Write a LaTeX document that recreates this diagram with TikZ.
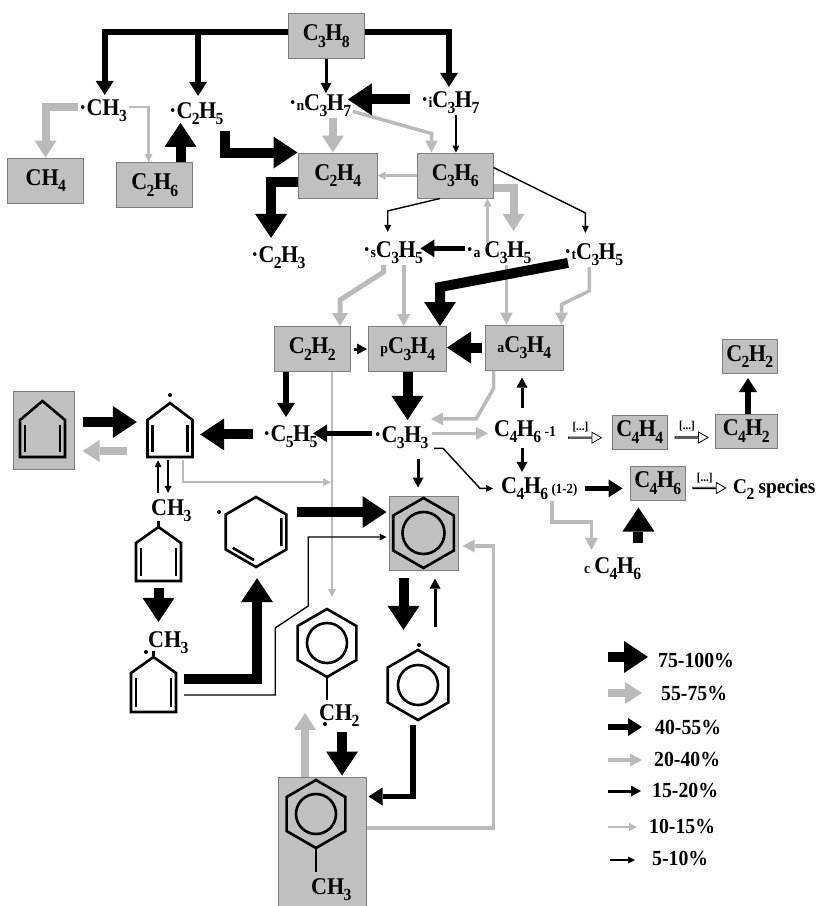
\documentclass[tikz,border=0pt]{standalone}
\usepackage{fontspec}
\setmainfont{Liberation Serif}[FakeStretch=0.92]
\usetikzlibrary{arrows.meta,calc,shapes.arrows}
\definecolor{boxgray}{RGB}{192,192,192}
\definecolor{boxline}{RGB}{125,125,125}
\definecolor{arrgray}{RGB}{186,186,186}
\newcommand\sbs[1]{\kern-0.6pt\relax\raisebox{-6.5pt}{\fontsize{17}{17}\selectfont #1}\kern-0.6pt\relax}
\newcommand\pfx[1]{{\fontsize{15}{15}\selectfont #1}}
\newcommand\lfont{\fontsize{24}{26}\selectfont\bfseries}
\newcommand\legfont{\fontsize{21.5}{23}\selectfont\bfseries}
\newcommand\hexring[2]{\draw[ring] (0,-#1) -- (#2,-#1/2) -- (#2,#1/2) -- (0,#1) -- (-#2,#1/2) -- (-#2,-#1/2) -- cycle;}
\tikzset{
  lbl/.style={font=\lfont, inner sep=1pt, anchor=base west},
  box/.style={draw=boxline, line width=1pt, fill=boxgray, minimum width=76pt, minimum height=45pt, inner sep=0pt, font=\lfont},
  sbox/.style={box, minimum width=55pt, minimum height=34pt},
  struct/.style={inner sep=0pt, draw=none},
  ring/.style={line width=2.6pt, line join=miter},
  big/.style={draw=black, line width=10pt, -{Triangle[width=32pt,length=24pt,line width=0pt]}},
  gthick/.style={draw=arrgray, line width=8pt, -{Triangle[width=22pt,length=17pt,line width=0pt]}},
  med/.style={draw=black, line width=5.5pt, -{Triangle[width=18pt,length=14pt,line width=0pt]}},
  gmedb/.style={draw=arrgray, line width=5pt, -{Triangle[width=16pt,length=13pt,line width=0pt]}},
  gmed/.style={draw=arrgray, line width=3.5pt, -{Triangle[width=13pt,length=12pt,line width=0pt]}},
  thn/.style={draw=black, line width=3pt, -{Triangle[width=11pt,length=10pt,line width=0pt]}},
  gthin/.style={draw=arrgray, line width=2.2pt, -{Triangle[width=8pt,length=8pt,line width=0pt]}},
  vthin/.style={draw=black, line width=1.4pt, -{Triangle[width=7pt,length=7pt,line width=0pt]}},
  hollow/.style={single arrow, draw=black, fill=white, line width=0.8pt, minimum height=33pt, minimum width=11pt, single arrow head extend=3pt, single arrow tip angle=60, inner sep=0pt},
  dotslbl/.style={font=\fontsize{12}{12}\selectfont\bfseries, inner sep=0pt}
}
\begin{document}
\begin{tikzpicture}[x=1pt,y=-1pt]
\useasboundingbox (0,0) rectangle (818,906);
\fill[white] (0,0) rectangle (818,906);

% ---------- boxes ----------
\node[box] (c3h8) at (326,36) {C\sbs{3}H\sbs{8}};
\node[box] (ch4) at (45.5,180.5) {CH\sbs{4}};
\node[box] (c2h6) at (154.5,185) {C\sbs{2}H\sbs{6}};
\node[box, minimum width=79pt] (c2h4) at (337.5,175.5) {C\sbs{2}H\sbs{4}};
\node[box] (c3h6) at (455,175.5) {C\sbs{3}H\sbs{6}};
\node[box] (c2h2) at (312,349) {C\sbs{2}H\sbs{2}};
\node[box, minimum width=78pt] (pc3h4) at (407.5,349) {\pfx{p}C\sbs{3}H\sbs{4}};
\node[box, minimum width=78pt] (ac3h4) at (524,347.5) {\pfx{a}C\sbs{3}H\sbs{4}};
\node[sbox] (c2h2r) at (749.5,356.5) {C\sbs{2}H\sbs{2}};
\node[sbox] (c4h4) at (639.5,432) {C\sbs{4}H\sbs{4}};
\node[sbox, minimum width=62pt] (c4h2) at (746,431) {C\sbs{4}H\sbs{2}};
\node[sbox] (c4h6b) at (657.5,483) {C\sbs{4}H\sbs{6}};
\node[box, minimum width=61pt, minimum height=78pt] (cpd) at (43.5,430) {};
\node[box, minimum width=69pt, minimum height=74pt] (benz) at (423.5,533) {};
\node[box, minimum width=88pt, minimum height=140pt] (tol) at (322,847) {};

% ---------- structure anchors ----------
\node[struct, minimum width=60pt, minimum height=60pt] (c5r) at (170,430) {};
\node[struct, minimum width=50pt, minimum height=56pt] (mcp) at (158.5,554) {};
\node[struct, minimum width=47pt, minimum height=56pt] (mcpr) at (153.5,684) {};
\node[struct, minimum width=58pt, minimum height=70pt] (chd) at (256,532) {};
\node[struct, minimum width=62pt, minimum height=68pt] (bzl) at (327,643) {};
\node[struct, minimum width=62pt, minimum height=70pt] (phen) at (418,685) {};

% ---------- labels ----------
\node[lbl] (ch3) at (78,115) {·CH\sbs{3}};
\node[lbl] (c2h5) at (168,118) {·C\sbs{2}H\sbs{5}};
\node[lbl] (nc3h7) at (288,110) {·\pfx{n}C\sbs{3}H\sbs{7}};
\node[lbl] (ic3h7) at (420,107) {·\pfx{i}C\sbs{3}H\sbs{7}};
\node[lbl] (c2h3) at (250,262) {·C\sbs{2}H\sbs{3}};
\node[lbl] (sc3h5) at (362,257) {·\pfx{s}C\sbs{3}H\sbs{5}};
\node[lbl] (ac3h5) at (465,257) {·\pfx{a}\,C\sbs{3}H\sbs{5}};
\node[lbl] (tc3h5) at (563,259) {·\pfx{t}C\sbs{3}H\sbs{5}};
\node[lbl] (c5h5) at (262,441) {·C\sbs{5}H\sbs{5}};
\node[lbl] (c3h3) at (373,442) {·C\sbs{3}H\sbs{3}};
\node[lbl] (c4h61) at (493,436) {C\sbs{4}H\sbs{6}\,{\fontsize{15}{15}\selectfont -1}};
\node[lbl] (c4h612) at (500,493) {C\sbs{4}H\sbs{6}\,{\fontsize{14}{14}\selectfont (1-2)}};
\node[lbl] (cc4h6) at (583,573) {\pfx{c}\,C\sbs{4}H\sbs{6}};
\node[lbl, font=\fontsize{21}{23}\selectfont\bfseries] (c2sp) at (732,493) {C\sbs{2} species};
\node[lbl] (mcpl) at (150,515) {CH\sbs{3}};
\node[lbl] (mcprl) at (147,647) {CH\sbs{3}};
\node[lbl] (bzll) at (318,720) {CH\sbs{2}};
\node[lbl] (toll) at (310,894) {CH\sbs{3}};

% ---------- structures ----------
\begin{scope}[shift={(cpd.center)}]
  \draw[ring] (-1,-29) -- (-23.5,-10) -- (-23.5,27) -- (21.5,27) -- (21.5,-10) -- cycle;
  \draw[ring] (-18.5,-5) -- (-18.5,22) (16.5,-5) -- (16.5,22);
\end{scope}
\begin{scope}[shift={(c5r.center)}]
  \draw[ring] (0,-27) -- (-22.5,-10) -- (-22.5,27) -- (22.5,27) -- (22.5,-10) -- cycle;
  \draw[ring] (-17.5,-5) -- (-17.5,22) (17.5,-5) -- (17.5,22);
  \fill (0,-35) circle[radius=2pt];
\end{scope}
\begin{scope}[shift={(mcp.center)}]
  \draw[ring] (0,-27) -- (-22.5,-11) -- (-22.5,27) -- (22.5,27) -- (22.5,-11) -- cycle;
  \draw[ring] (-17.5,-6) -- (-17.5,22) (17.5,-6) -- (17.5,22);
  \draw[ring] (0,-27) -- (0,-33);
\end{scope}
\begin{scope}[shift={(mcpr.center)}]
  \draw[ring] (0,-27) -- (-22.5,-11) -- (-22.5,28) -- (22.5,28) -- (22.5,-11) -- cycle;
  \draw[ring] (-17.5,-6) -- (-17.5,23) (17.5,-6) -- (17.5,23);
  \draw[ring] (0,-27) -- (0,-33);
  \fill (-7.5,-32) circle[radius=2pt];
\end{scope}
\begin{scope}[shift={(chd.center)}]
  \hexring{35}{30.3}
  \draw[ring] (25.3,-14) -- (25.3,14) (-23.3,15.8) -- (-2,28.1);
  \fill (-37,-20) circle[radius=2pt];
\end{scope}
\begin{scope}[shift={(benz.center)}]
  \hexring{35}{30.3}
  \draw[ring] (0,0) circle[radius=21pt];
\end{scope}
\begin{scope}[shift={(bzl.center)}]
  \hexring{34}{29.4}
  \draw[ring] (0,0) circle[radius=20pt];
  \draw[ring] (0,34) -- (0,57);
  \fill (-2,81) circle[radius=2pt];
\end{scope}
\begin{scope}[shift={(phen.center)}]
  \hexring{35}{30.3}
  \draw[ring] (0,0) circle[radius=20pt];
  \fill (1,-40) circle[radius=2pt];
\end{scope}
\begin{scope}[shift={(316,814)}]
  \hexring{34}{29.4}
  \draw[ring] (0,0) circle[radius=20pt];
  \draw[ring] (0,34) -- (0,58);
\end{scope}

% ---------- helper coordinates ----------
\coordinate (tl) at ($(c3h8.west)+(0,-4)$);
\coordinate (c2h5t) at ($(c2h5.north)+(2,-5)$);
\coordinate (a4) at ($(ic3h7.west)+(-10,-3)$);
\coordinate (a7) at ($(c2h6.north)+(26,0)$);
\coordinate (a9) at ($(nc3h7.south)+(13,0)$);
\coordinate (a11) at ($(ic3h7.south)+(6,0)$);
\coordinate (a16) at ($(ac3h5.north)+(-11,3)$);
\coordinate (a18) at ($(ac3h5.west)+(0,-4)$);
\coordinate (a21) at ($(sc3h5.south)+(11,0)$);
\coordinate (a22) at ($(ac3h5.south)+(8,0)$);
\coordinate (a27) at ($(c2h2.south)+(-26,0)$);
\coordinate (a28) at ($(c2h2.south)+(20,0)$);
\coordinate (a30) at ($(ac3h4.south)+(-2,0)$);
\coordinate (a31) at ($(c3h3.east)+(3,-4)$);
\coordinate (a32) at ($(c3h3.west)+(0,-4)$);
\coordinate (a33) at ($(c5h5.west)+(-9,-2)$);
\coordinate (a34) at ($(cpd.east)+(8,-8)$);
\coordinate (a35) at ($(c5r.west)+(-13,21)$);
\coordinate (a36u) at ($(mcpl.north)+(-13,-5)$);
\coordinate (a36d) at ($(mcpl.north)+(-3,-5)$);
\coordinate (a37) at ($(c5r.south)+(13,22)$);
\coordinate (a38) at ($(chd.east)+(12,-20)$);
\coordinate (a41) at ($(mcp.south)+(0,6)$);
\coordinate (a42) at ($(c3h3.south)+(17,9)$);
\coordinate (a44) at ($(benz.south)+(-20,7)$);
\coordinate (a45) at ($(phen.north)+(17,-23)$);
\coordinate (a48) at ($(bzll.south)+(3,4)$);
\coordinate (a49) at ($(tol.north)+(-17,0)$);
\coordinate (a51) at ($(c4h612.east)+(6,0)$);
\coordinate (a53) at ($(cc4h6.north)+(26,-13)$);
\coordinate (a56) at ($(c4h2.north)+(2,0)$);

% ---------- gray connectors ----------
\draw[gthick] ($(ch3.west)+(0,-3)$) -| (ch4.north);
\draw[gthin] ($(ch3.east)+(1,-3)$) -| ($(c2h6.north)+(-6,0)$);
\draw[gthick] (a9) -- (a9 |- c2h4.north);
\draw[gmed] ($(nc3h7.east)+(1,6)$) -- ($(c3h6.north west)+(15,-19)$) -- ($(c3h6.north west)+(15,0)$);
\draw[gthin] (c3h6.west) -- (c2h4.east);
\draw[gthin] (a16) -- (a16 |- c3h6.south);
\draw[gthick] ($(c3h6.east)+(0,12)$) -| ($(ac3h5.north)+(15,-9)$);
\draw[gmedb] ($(sc3h5.south)+(-9,0)$) -- ++(0,7) -- ($(c2h2.north)+(28,-26)$) -- ($(c2h2.north)+(28,0)$);
\draw[gmed] (a21) -- (a21 |- pc3h4.north);
\draw[gmed] (a22) -- (a22 |- ac3h4.north);
\draw[gmed] ($(tc3h5.south)+(-4,0)$) -- ++(0,24) -- ($(ac3h4.north east)+(-2,-20)$) -- ($(ac3h4.north east)+(-2,0)$);
\draw[gthin] (a28) -- ($(bzl.north)+(5,-12)$);
\draw[gmed] ($(ac3h4.south west)+(9,0)$) -- ++(0,18) -- ($(c3h3.north east)+(47,-6)$) -- ($(c3h3.north east)+(2,-6)$);
\draw[gmed, shorten >=5pt] (a31) -- (a31 -| c4h61.west);
\draw[gthick, shorten >=8pt] (a35) -- (a35 -| cpd.east);
\draw[gthin, shorten >=1pt] ($(c5r.south)+(13,0)$) -- (a37) -- (a37 -| a28);
\draw[gmed] ($(tol.east)+(0,-19)$) -- ++(127,0) |- ($(benz.east)+(4,13)$);
\draw[gthick, shorten >=10pt] (a49) -- (a49 |- bzll.north);
\draw[gmed] ($(c4h612.south west)+(52,0)$) -- ++(0,21) -| ($(cc4h6.north)+(-21,-6)$);

% ---------- black connectors ----------
\draw[med] (tl) -| ($(ch3.north)+(2,-3)$);
\draw[med] (tl -| c2h5t) -- (c2h5t);
\draw[med] ($(c3h8.east)+(0,-4)$) -| ($(ic3h7.north)+(-1,-3)$);
\draw[thn] (c3h8.south) -- (c3h8.south |- nc3h7.north);
\draw[big, shorten >=-4pt] (a4) -- (a4 -| nc3h7.east);
\draw[big, shorten >=-3pt] (a7) -- (a7 |- c2h5.south);
\draw[big] ($(c2h5.south east)+(1,5)$) |- (c2h4.north west);
\draw[vthin] (a11) -- (a11 |- c3h6.north);
\draw[big] ($(c2h4.west)+(0,6)$) -| ($(c2h3.north)+(-7,-7)$);
\draw[vthin] ($(c3h6.south)+(-15,0)$) -- ($(sc3h5.north)+(-5,-29)$) -- ($(sc3h5.north)+(-5,-8)$);
\draw[vthin] ($(c3h6.east)+(0,-8)$) -- ($(tc3h5.north)+(-8,-29)$) -- ($(tc3h5.north)+(-8,-9)$);
\draw[med, shorten >=-3pt] (a18) -- (a18 -| sc3h5.east);
\draw[big] ($(tc3h5.south west)+(5,-4)$) -- ($(pc3h4.north)+(32.5,-39)$) -- ($(pc3h4.north)+(32.5,0)$);
\draw[thn, shorten <=3pt, shorten >=1pt] (c2h2.east) -- (pc3h4.west);
\draw[big, shorten <=3pt] (ac3h4.west) -- (ac3h4.west -| pc3h4.east);
\draw[big, shorten >=5pt] (pc3h4.south) -- (pc3h4.south |- c3h3.north);
\draw[med, shorten >=7pt] (a27) -- (a27 |- c5h5.north);
\draw[thn, shorten <=11pt, shorten >=7pt] (a30 |- c4h61.north) -- (a30);
\draw[med, shorten <=1pt, shorten >=-5pt] (a32) -- (a32 -| c5h5.east);
\draw[big] (a33) -- (a33 -| c5r.east);
\draw[big, shorten >=3pt] (a34) -- (a34 -| c5r.west);
\draw[vthin] (a36u) -- (a36u |- c5r.south);
\draw[vthin] (a36d |- c5r.south) -- (a36d);
\draw[big, shorten >=2pt] (a38) -- (a38 -| benz.west);
\draw[big] ($(mcpr.east)+(7,-5)$) -| ($(chd.south)+(1,11)$);
\draw[vthin] ($(mcpr.east)+(7,11)$) -- ++(91,0) -- ++(0,-67) -- ++(33,-22) |- ($(benz.west)+(-2,4)$);
\draw[big, shorten >=8pt] (a41) -- (a41 |- mcprl.north);
\draw[thn, shorten >=8pt] (a42) -- (a42 |- benz.north);
\draw[vthin, shorten >=7pt] ($(c3h3.east)+(5,11)$) -- ++(9,0) -- ($(c4h612.west)+(-20,0)$) -- (c4h612.west);
\draw[big, shorten >=20pt] (a44) -- (a44 |- phen.north);
\draw[thn, shorten >=8pt] (a45) -- (a45 |- benz.south);
\draw[med] ($(phen.south)+(-5,5)$) |- ($(tol.north east)+(2,20)$);
\draw[big, shorten >=1pt] (a48) -- (a48 |- tol.north);
\draw[thn, shorten <=4pt, shorten >=4pt] (a30 |- c4h61.south) -- (a30 |- c4h612.north);
\draw[med, shorten >=7pt] (a51) -- (a51 -| c4h6b.west);
\draw[big, shorten >=7pt] (a53) -- (a53 |- c4h6b.south);
\draw[med, shorten >=4pt] (a56) -- (a56 |- c2h2r.south);

% ---------- hollow arrows ----------
\node[hollow] (h1) at ($(c4h61.east)!0.5!(c4h4.west)+(0,6)$) {};
\node[hollow] (h2) at ($(c4h4.east)!0.5!(c4h2.west)+(0,6)$) {};
\node[hollow] (h3) at ($(c4h6b.east)!0.5!(c2sp.west)+(0,2)$) {};
\node[dotslbl] (d1) at ($(h1.center)+(-4,-11)$) {[...]};
\node[dotslbl] (d2) at ($(h2.center)+(-4,-11)$) {[...]};
\node[dotslbl] (d3) at ($(h3.center)+(-4,-10)$) {[...]};

% ---------- legend ----------
\node[lbl, font=\legfont] (l1) at (657,667) {75-100\%};
\node[lbl, font=\legfont] (l2) at (660,700) {55-75\%};
\node[lbl, font=\legfont] (l3) at (654,734) {40-55\%};
\node[lbl, font=\legfont] (l4) at (653,766) {20-40\%};
\node[lbl, font=\legfont] (l5) at (651,797) {15-20\%};
\node[lbl, font=\legfont] (l6) at (648,833) {10-15\%};
\node[lbl, font=\legfont] (l7) at (651,865) {5-10\%};
\draw[big] ($(l1.west)+(-49,-3)$) -- ($(l1.west)+(-9,-3)$);
\draw[gthick] ($(l2.west)+(-52,0)$) -- ($(l2.west)+(-18,0)$);
\draw[med] ($(l3.west)+(-46,0)$) -- ($(l3.west)+(-12,0)$);
\draw[gmed] ($(l4.west)+(-45,1)$) -- ($(l4.west)+(-11,1)$);
\draw[thn] ($(l5.west)+(-43,1)$) -- ($(l5.west)+(-10,1)$);
\draw[gthin] ($(l6.west)+(-40,1)$) -- ($(l6.west)+(-11,1)$);
\draw[vthin] ($(l7.west)+(-41,2)$) -- ($(l7.west)+(-16,2)$);
\end{tikzpicture}
\end{document}
